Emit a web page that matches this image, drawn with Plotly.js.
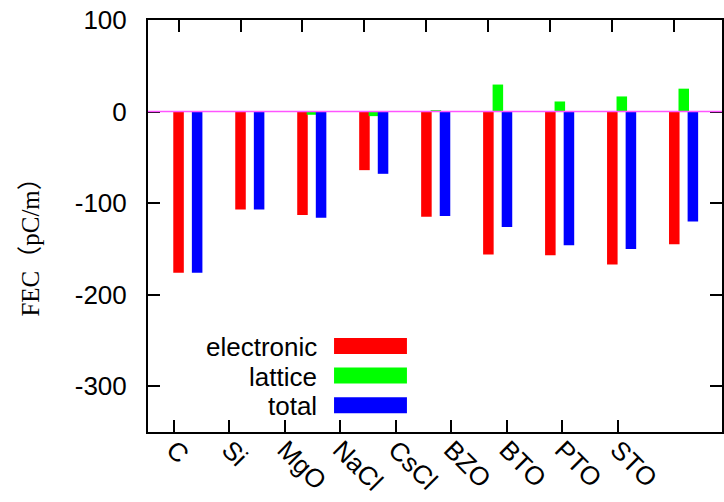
<!DOCTYPE html>
<html>
<head>
<meta charset="utf-8">
<script src="https://cdn.plot.ly/plotly-3.0.1.min.js"></script>
<style>html,body{margin:0;padding:0;background:#fff}#chart{width:724px;height:502px}</style>
</head>
<body>
<div id="chart"></div>
<script>
var categories = ['C', 'Si', 'MgO', 'NaCl', 'CsCl', 'BZO', 'BTO', 'PTO', 'STO'];
var positions = [1, 2, 3, 4, 5, 6, 7, 8, 9];
var electronic = [-176, -107, -113, -64, -115, -156, -157, -167, -145];
var lattice = [0, 0, -3.5, -5, 1.5, 29.5, 11, 16.5, 25];
var total = [-176, -107, -116, -68, -114, -126, -146, -150, -120];
var seriesNames = ['electronic', 'lattice', 'total'];
var seriesColors = ['#ff0000', '#00ff00', '#0000ff'];
var yTicks = [100, 0, -100, -200, -300];

var seriesValues = [electronic, lattice, total];
var barWidth = 0.17;
var barOffsets = [-0.085, 0.068, 0.215];

var traces = seriesValues.map(function (vals, i) {
  return {
    type: 'bar',
    x: positions,
    y: vals,
    xaxis: 'x2',
    yaxis: 'y',
    width: barWidth,
    offset: barOffsets[i],
    marker: {color: seriesColors[i], line: {width: 0}},
    name: seriesNames[i],
    showlegend: false,
    hoverinfo: 'skip'
  };
});
traces.push({
  type: 'scatter', mode: 'markers', x: positions, y: positions.map(function () { return null; }),
  xaxis: 'x', yaxis: 'y', showlegend: false, hoverinfo: 'skip'
});

var L = 147.7, R = 722.5, T = 20, B = 431.7;
var W = 724, H = 502;
var pw = R - L, ph = B - T;
function px2x(p) { return (p - L) / pw; }
function px2y(p) { return (B - p) / ph; }

var shapes = [{
  type: 'line', xref: 'paper', yref: 'y', x0: 0, x1: 1, y0: 0, y1: 0,
  line: {color: '#ff55ff', width: 1.5}, layer: 'above'
}];
var annotations = [{
  text: 'FEC（pC/m）', xref: 'paper', yref: 'paper', x: px2x(30), y: px2y(241),
  textangle: -90, showarrow: false, xanchor: 'center', yanchor: 'middle',
  font: {family: 'Liberation Serif, Noto Sans CJK SC, serif', size: 25, color: '#000'}
}];
var legRows = [345.7, 375.3, 405];
seriesNames.forEach(function (n, i) {
  shapes.push({
    type: 'rect', xref: 'paper', yref: 'paper',
    x0: px2x(334), x1: px2x(407), y0: px2y(legRows[i] + 8), y1: px2y(legRows[i] - 8),
    fillcolor: seriesColors[i], line: {width: 0}, layer: 'above'
  });
  annotations.push({
    text: n, xref: 'paper', yref: 'paper', x: px2x(319), y: px2y(legRows[i] + 1),
    xanchor: 'right', yanchor: 'middle', showarrow: false,
    font: {family: 'Liberation Sans, Arial, sans-serif', size: 26, color: '#000'}
  });
});

var tickFont = {family: 'Liberation Sans, Arial, sans-serif', size: 26, color: '#000'};
var layout = {
  width: W, height: H,
  margin: {l: L, r: W - R, t: T, b: H - B, pad: 0},
  paper_bgcolor: '#fff', plot_bgcolor: '#fff',
  barmode: 'overlay',
  showlegend: false,
  xaxis: {
    type: 'linear', range: [0.532, 10.874], tickmode: 'array', tickvals: positions, ticktext: categories,
    ticks: 'inside', ticklen: 12, tickwidth: 2, tickcolor: '#000',
    showline: true, linecolor: '#000', linewidth: 2, mirror: false,
    showgrid: false, zeroline: false, tickangle: 45, tickfont: tickFont,
    ticklabelstandoff: -10
  },
  xaxis2: {
    type: 'linear', range: [0.507, 9.77], overlaying: 'x', side: 'top', anchor: 'y',
    tickmode: 'array', tickvals: positions, showticklabels: false,
    ticks: 'inside', ticklen: 12, tickwidth: 2, tickcolor: '#000',
    showline: true, linecolor: '#000', linewidth: 2,
    showgrid: false, zeroline: false
  },
  yaxis: {
    range: [-350, 100], tickmode: 'array', tickvals: yTicks, ticktext: yTicks.map(String),
    ticks: 'inside', ticklen: 12, tickwidth: 2, tickcolor: '#000',
    showline: true, linecolor: '#000', linewidth: 2, mirror: 'ticks',
    showgrid: false, zeroline: false, tickfont: tickFont,
    ticklabelstandoff: 14
  },
  shapes: shapes,
  annotations: annotations
};
Plotly.newPlot('chart', traces, layout, {staticPlot: true, displayModeBar: false});
</script>
</body>
</html>
